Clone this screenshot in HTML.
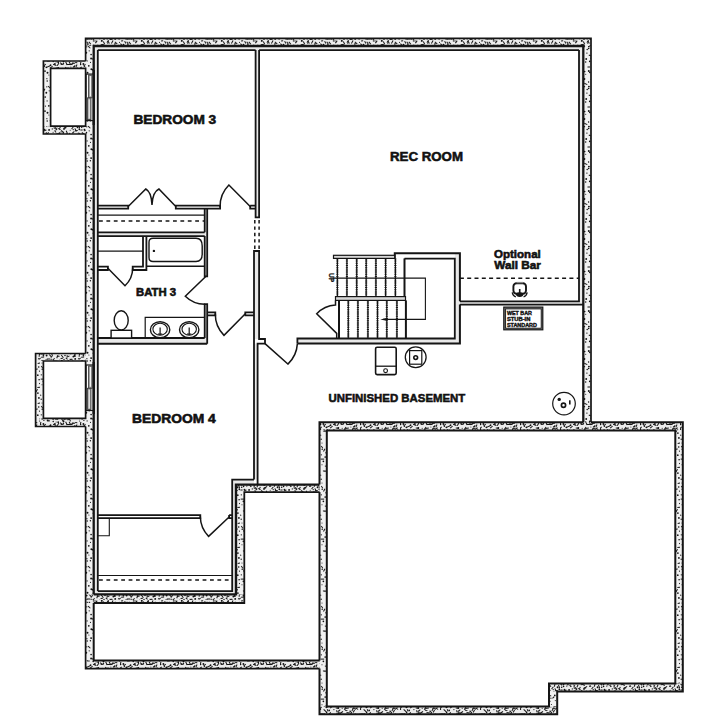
<!DOCTYPE html>
<html><head><meta charset="utf-8"><title>Basement Floor Plan</title>
<style>
html,body{margin:0;padding:0;background:#fff;}
body{width:718px;height:723px;overflow:hidden;font-family:"Liberation Sans",sans-serif;}
svg{display:block;}
</style></head>
<body>
<svg width="718" height="723" viewBox="0 0 718 723" shape-rendering="geometricPrecision"><defs><pattern id="sth" patternUnits="userSpaceOnUse" width="40" height="40"><rect width="40" height="40" fill="#ececec"/><rect x="1.0" y="0.6" width="2.1" height="1.0" fill="#161616" transform="rotate(-9 1.0 0.6)"/><rect x="0.8" y="3.3" width="2.4" height="1.0" fill="#161616" transform="rotate(48 0.8 3.3)"/><circle cx="1.7" cy="7.3" r="0.79" fill="#111"/><rect x="0.4" y="9.4" width="2.2" height="1.0" fill="#161616" transform="rotate(1 0.4 9.4)"/><rect x="2.2" y="12.1" width="3.0" height="1.0" fill="#161616" transform="rotate(39 2.2 12.1)"/><rect x="1.7" y="15.7" width="3.2" height="1.0" fill="#161616" transform="rotate(43 1.7 15.7)"/><circle cx="2.1" cy="19.0" r="0.79" fill="#111"/><rect x="1.5" y="22.3" width="2.5" height="1.0" fill="#161616" transform="rotate(116 1.5 22.3)"/><circle cx="0.6" cy="24.3" r="0.83" fill="#111"/><rect x="2.0" y="27.3" width="2.5" height="1.0" fill="#161616" transform="rotate(140 2.0 27.3)"/><circle cx="0.4" cy="29.1" r="0.85" fill="#111"/><rect x="0.4" y="33.4" width="2.9" height="1.0" fill="#161616" transform="rotate(4 0.4 33.4)"/><rect x="1.1" y="36.7" width="3.0" height="1.0" fill="#161616" transform="rotate(-4 1.1 36.7)"/><rect x="0.9" y="38.3" width="2.1" height="1.0" fill="#161616" transform="rotate(137 0.9 38.3)"/><rect x="5.1" y="0.9" width="2.6" height="1.0" fill="#161616" transform="rotate(64 5.1 0.9)"/><circle cx="3.5" cy="4.6" r="0.92" fill="#111"/><circle cx="3.6" cy="6.6" r="0.77" fill="#111"/><circle cx="4.5" cy="9.6" r="0.93" fill="#111"/><rect x="5.3" y="13.2" width="2.7" height="1.0" fill="#161616" transform="rotate(4 5.3 13.2)"/><circle cx="4.0" cy="15.5" r="0.82" fill="#111"/><circle cx="3.3" cy="17.6" r="0.58" fill="#111"/><circle cx="3.9" cy="20.4" r="0.58" fill="#111"/><circle cx="3.4" cy="24.0" r="0.94" fill="#111"/><circle cx="4.5" cy="26.3" r="0.67" fill="#111"/><rect x="4.0" y="29.1" width="3.6" height="1.0" fill="#161616" transform="rotate(43 4.0 29.1)"/><rect x="4.9" y="33.4" width="3.1" height="1.0" fill="#161616" transform="rotate(120 4.9 33.4)"/><circle cx="3.5" cy="35.8" r="0.76" fill="#111"/><rect x="5.4" y="39.4" width="2.4" height="1.0" fill="#161616" transform="rotate(5 5.4 39.4)"/><rect x="7.2" y="1.4" width="3.0" height="1.0" fill="#161616" transform="rotate(59 7.2 1.4)"/><circle cx="7.9" cy="4.8" r="0.76" fill="#111"/><circle cx="6.8" cy="6.1" r="0.64" fill="#111"/><rect x="6.6" y="10.4" width="2.7" height="1.0" fill="#161616" transform="rotate(159 6.6 10.4)"/><rect x="6.2" y="11.9" width="2.5" height="1.0" fill="#161616" transform="rotate(44 6.2 11.9)"/><rect x="7.1" y="16.1" width="2.1" height="1.0" fill="#161616" transform="rotate(53 7.1 16.1)"/><rect x="7.1" y="17.8" width="2.5" height="1.0" fill="#161616" transform="rotate(159 7.1 17.8)"/><circle cx="7.7" cy="20.5" r="1.00" fill="#111"/><rect x="6.1" y="24.5" width="3.0" height="1.0" fill="#161616" transform="rotate(140 6.1 24.5)"/><circle cx="6.4" cy="27.3" r="0.90" fill="#111"/><rect x="7.7" y="29.1" width="2.2" height="1.0" fill="#161616" transform="rotate(69 7.7 29.1)"/><circle cx="6.6" cy="32.4" r="0.79" fill="#111"/><circle cx="6.6" cy="35.5" r="0.96" fill="#111"/><rect x="6.8" y="38.5" width="3.4" height="1.0" fill="#161616" transform="rotate(0 6.8 38.5)"/><rect x="9.2" y="1.5" width="3.2" height="1.0" fill="#161616" transform="rotate(50 9.2 1.5)"/><rect x="9.9" y="4.8" width="2.5" height="1.0" fill="#161616" transform="rotate(46 9.9 4.8)"/><circle cx="10.9" cy="6.1" r="0.52" fill="#111"/><circle cx="9.1" cy="9.9" r="0.95" fill="#111"/><rect x="9.0" y="12.5" width="3.0" height="1.0" fill="#161616" transform="rotate(124 9.0 12.5)"/><rect x="10.0" y="15.1" width="3.4" height="1.0" fill="#161616" transform="rotate(66 10.0 15.1)"/><circle cx="10.8" cy="17.7" r="0.72" fill="#111"/><circle cx="9.0" cy="20.8" r="0.83" fill="#111"/><circle cx="10.6" cy="25.2" r="0.86" fill="#111"/><rect x="10.4" y="26.3" width="3.5" height="1.0" fill="#161616" transform="rotate(158 10.4 26.3)"/><circle cx="9.2" cy="30.4" r="0.85" fill="#111"/><rect x="11.1" y="32.6" width="2.6" height="1.0" fill="#161616" transform="rotate(128 11.1 32.6)"/><rect x="9.9" y="34.6" width="3.0" height="1.0" fill="#161616" transform="rotate(46 9.9 34.6)"/><circle cx="11.1" cy="37.7" r="0.52" fill="#111"/><circle cx="13.5" cy="0.9" r="0.71" fill="#111"/><circle cx="13.8" cy="5.0" r="0.57" fill="#111"/><rect x="13.8" y="7.3" width="2.1" height="1.0" fill="#161616" transform="rotate(23 13.8 7.3)"/><circle cx="12.3" cy="8.9" r="0.63" fill="#111"/><circle cx="13.1" cy="12.2" r="0.56" fill="#111"/><rect x="11.7" y="16.8" width="3.5" height="1.0" fill="#161616" transform="rotate(51 11.7 16.8)"/><circle cx="13.9" cy="18.0" r="0.97" fill="#111"/><circle cx="13.2" cy="21.5" r="0.72" fill="#111"/><rect x="13.3" y="23.8" width="3.6" height="1.0" fill="#161616" transform="rotate(22 13.3 23.8)"/><rect x="12.9" y="26.6" width="3.1" height="1.0" fill="#161616" transform="rotate(143 12.9 26.6)"/><circle cx="13.9" cy="29.6" r="0.61" fill="#111"/><rect x="12.2" y="33.7" width="2.2" height="1.0" fill="#161616" transform="rotate(69 12.2 33.7)"/><circle cx="11.9" cy="36.3" r="0.58" fill="#111"/><rect x="11.9" y="39.4" width="3.1" height="1.0" fill="#161616" transform="rotate(122 11.9 39.4)"/><circle cx="15.0" cy="0.9" r="0.68" fill="#111"/><rect x="15.3" y="5.4" width="2.1" height="1.0" fill="#161616" transform="rotate(121 15.3 5.4)"/><rect x="15.4" y="7.1" width="2.3" height="1.0" fill="#161616" transform="rotate(45 15.4 7.1)"/><rect x="14.9" y="10.2" width="2.5" height="1.0" fill="#161616" transform="rotate(51 14.9 10.2)"/><rect x="16.1" y="13.4" width="2.6" height="1.0" fill="#161616" transform="rotate(-7 16.1 13.4)"/><rect x="16.0" y="14.9" width="3.1" height="1.0" fill="#161616" transform="rotate(4 16.0 14.9)"/><rect x="14.9" y="18.6" width="3.3" height="1.0" fill="#161616" transform="rotate(2 14.9 18.6)"/><circle cx="16.1" cy="21.9" r="0.52" fill="#111"/><circle cx="14.9" cy="24.0" r="0.92" fill="#111"/><rect x="15.8" y="27.4" width="3.1" height="1.0" fill="#161616" transform="rotate(6 15.8 27.4)"/><circle cx="16.7" cy="30.9" r="0.76" fill="#111"/><rect x="16.3" y="32.8" width="3.4" height="1.0" fill="#161616" transform="rotate(-5 16.3 32.8)"/><rect x="16.8" y="35.7" width="2.8" height="1.0" fill="#161616" transform="rotate(2 16.8 35.7)"/><rect x="15.0" y="38.8" width="3.0" height="1.0" fill="#161616" transform="rotate(141 15.0 38.8)"/><rect x="17.6" y="0.9" width="3.1" height="1.0" fill="#161616" transform="rotate(125 17.6 0.9)"/><rect x="18.5" y="4.9" width="2.9" height="1.0" fill="#161616" transform="rotate(114 18.5 4.9)"/><rect x="18.5" y="7.9" width="2.7" height="1.0" fill="#161616" transform="rotate(33 18.5 7.9)"/><rect x="17.6" y="9.1" width="2.4" height="1.0" fill="#161616" transform="rotate(140 17.6 9.1)"/><circle cx="19.5" cy="13.3" r="0.95" fill="#111"/><circle cx="18.5" cy="14.6" r="0.75" fill="#111"/><circle cx="18.5" cy="18.1" r="0.67" fill="#111"/><circle cx="18.2" cy="22.2" r="0.88" fill="#111"/><rect x="19.3" y="23.4" width="3.1" height="1.0" fill="#161616" transform="rotate(124 19.3 23.4)"/><circle cx="18.3" cy="28.0" r="0.96" fill="#111"/><circle cx="19.2" cy="30.8" r="0.53" fill="#111"/><circle cx="18.9" cy="33.2" r="0.99" fill="#111"/><rect x="18.4" y="35.3" width="3.3" height="1.0" fill="#161616" transform="rotate(111 18.4 35.3)"/><rect x="19.5" y="39.6" width="3.2" height="1.0" fill="#161616" transform="rotate(22 19.5 39.6)"/><circle cx="21.8" cy="0.9" r="0.96" fill="#111"/><rect x="20.6" y="4.2" width="2.5" height="1.0" fill="#161616" transform="rotate(-5 20.6 4.2)"/><rect x="20.8" y="7.1" width="2.2" height="1.0" fill="#161616" transform="rotate(114 20.8 7.1)"/><rect x="21.5" y="9.9" width="3.2" height="1.0" fill="#161616" transform="rotate(41 21.5 9.9)"/><circle cx="21.1" cy="11.9" r="0.63" fill="#111"/><rect x="21.6" y="16.6" width="2.7" height="1.0" fill="#161616" transform="rotate(136 21.6 16.6)"/><rect x="22.0" y="18.6" width="2.6" height="1.0" fill="#161616" transform="rotate(54 22.0 18.6)"/><rect x="20.5" y="22.3" width="3.0" height="1.0" fill="#161616" transform="rotate(42 20.5 22.3)"/><rect x="20.6" y="24.1" width="3.3" height="1.0" fill="#161616" transform="rotate(-9 20.6 24.1)"/><circle cx="22.2" cy="28.2" r="0.55" fill="#111"/><rect x="20.6" y="30.1" width="3.5" height="1.0" fill="#161616" transform="rotate(142 20.6 30.1)"/><circle cx="20.5" cy="33.5" r="0.56" fill="#111"/><rect x="21.6" y="34.7" width="3.5" height="1.0" fill="#161616" transform="rotate(51 21.6 34.7)"/><rect x="20.5" y="38.1" width="2.3" height="1.0" fill="#161616" transform="rotate(-10 20.5 38.1)"/><rect x="23.8" y="1.3" width="3.0" height="1.0" fill="#161616" transform="rotate(64 23.8 1.3)"/><rect x="23.2" y="4.1" width="2.1" height="1.0" fill="#161616" transform="rotate(30 23.2 4.1)"/><rect x="23.7" y="7.5" width="2.4" height="1.0" fill="#161616" transform="rotate(-2 23.7 7.5)"/><circle cx="24.0" cy="8.9" r="0.92" fill="#111"/><circle cx="23.3" cy="12.8" r="0.88" fill="#111"/><circle cx="23.6" cy="15.6" r="0.94" fill="#111"/><rect x="23.4" y="18.9" width="3.4" height="1.0" fill="#161616" transform="rotate(-9 23.4 18.9)"/><circle cx="23.5" cy="21.2" r="0.99" fill="#111"/><circle cx="23.5" cy="23.3" r="0.70" fill="#111"/><rect x="25.2" y="28.0" width="3.6" height="1.0" fill="#161616" transform="rotate(-6 25.2 28.0)"/><rect x="24.8" y="28.9" width="2.6" height="1.0" fill="#161616" transform="rotate(39 24.8 28.9)"/><rect x="23.3" y="31.9" width="3.4" height="1.0" fill="#161616" transform="rotate(148 23.3 31.9)"/><circle cx="25.0" cy="35.6" r="0.74" fill="#111"/><circle cx="24.0" cy="39.5" r="0.68" fill="#111"/><rect x="28.1" y="0.4" width="3.3" height="1.0" fill="#161616" transform="rotate(58 28.1 0.4)"/><circle cx="27.8" cy="3.3" r="0.53" fill="#111"/><rect x="27.4" y="6.8" width="3.5" height="1.0" fill="#161616" transform="rotate(147 27.4 6.8)"/><rect x="26.7" y="10.5" width="3.3" height="1.0" fill="#161616" transform="rotate(67 26.7 10.5)"/><rect x="27.1" y="13.9" width="2.6" height="1.0" fill="#161616" transform="rotate(131 27.1 13.9)"/><rect x="26.4" y="16.4" width="3.3" height="1.0" fill="#161616" transform="rotate(140 26.4 16.4)"/><rect x="27.1" y="19.2" width="2.8" height="1.0" fill="#161616" transform="rotate(-2 27.1 19.2)"/><rect x="26.1" y="21.5" width="3.6" height="1.0" fill="#161616" transform="rotate(64 26.1 21.5)"/><rect x="26.5" y="24.1" width="3.6" height="1.0" fill="#161616" transform="rotate(-1 26.5 24.1)"/><rect x="26.5" y="27.2" width="3.2" height="1.0" fill="#161616" transform="rotate(125 26.5 27.2)"/><circle cx="26.9" cy="30.5" r="0.62" fill="#111"/><rect x="26.6" y="32.1" width="2.9" height="1.0" fill="#161616" transform="rotate(10 26.6 32.1)"/><circle cx="27.2" cy="36.1" r="0.73" fill="#111"/><rect x="26.1" y="37.4" width="2.4" height="1.0" fill="#161616" transform="rotate(42 26.1 37.4)"/><rect x="29.1" y="0.7" width="2.9" height="1.0" fill="#161616" transform="rotate(129 29.1 0.7)"/><rect x="30.2" y="4.9" width="2.0" height="1.0" fill="#161616" transform="rotate(52 30.2 4.9)"/><circle cx="29.7" cy="6.3" r="0.63" fill="#111"/><circle cx="30.2" cy="10.3" r="0.51" fill="#111"/><circle cx="29.6" cy="13.3" r="0.66" fill="#111"/><rect x="29.3" y="16.4" width="2.1" height="1.0" fill="#161616" transform="rotate(1 29.3 16.4)"/><rect x="30.1" y="18.9" width="2.4" height="1.0" fill="#161616" transform="rotate(69 30.1 18.9)"/><rect x="29.6" y="21.6" width="2.7" height="1.0" fill="#161616" transform="rotate(63 29.6 21.6)"/><rect x="29.8" y="24.1" width="2.7" height="1.0" fill="#161616" transform="rotate(-8 29.8 24.1)"/><circle cx="30.9" cy="27.1" r="0.51" fill="#111"/><rect x="30.1" y="30.3" width="2.1" height="1.0" fill="#161616" transform="rotate(51 30.1 30.3)"/><circle cx="29.7" cy="32.1" r="0.53" fill="#111"/><rect x="29.7" y="36.3" width="3.3" height="1.0" fill="#161616" transform="rotate(152 29.7 36.3)"/><rect x="29.6" y="38.8" width="2.1" height="1.0" fill="#161616" transform="rotate(8 29.6 38.8)"/><rect x="33.5" y="0.8" width="3.4" height="1.0" fill="#161616" transform="rotate(119 33.5 0.8)"/><rect x="33.9" y="3.5" width="2.2" height="1.0" fill="#161616" transform="rotate(-6 33.9 3.5)"/><rect x="33.6" y="7.5" width="2.5" height="1.0" fill="#161616" transform="rotate(133 33.6 7.5)"/><circle cx="33.2" cy="9.6" r="0.69" fill="#111"/><circle cx="32.6" cy="12.9" r="0.50" fill="#111"/><rect x="34.0" y="15.6" width="3.0" height="1.0" fill="#161616" transform="rotate(152 34.0 15.6)"/><rect x="32.0" y="17.7" width="2.1" height="1.0" fill="#161616" transform="rotate(-9 32.0 17.7)"/><rect x="32.0" y="22.4" width="3.2" height="1.0" fill="#161616" transform="rotate(8 32.0 22.4)"/><rect x="33.9" y="23.5" width="3.6" height="1.0" fill="#161616" transform="rotate(151 33.9 23.5)"/><rect x="32.4" y="27.9" width="3.1" height="1.0" fill="#161616" transform="rotate(7 32.4 27.9)"/><rect x="33.4" y="29.2" width="2.4" height="1.0" fill="#161616" transform="rotate(117 33.4 29.2)"/><rect x="32.2" y="32.3" width="2.5" height="1.0" fill="#161616" transform="rotate(119 32.2 32.3)"/><circle cx="33.3" cy="36.6" r="0.89" fill="#111"/><rect x="32.0" y="38.6" width="2.6" height="1.0" fill="#161616" transform="rotate(64 32.0 38.6)"/><rect x="35.1" y="1.5" width="3.2" height="1.0" fill="#161616" transform="rotate(39 35.1 1.5)"/><rect x="35.4" y="4.9" width="2.3" height="1.0" fill="#161616" transform="rotate(112 35.4 4.9)"/><rect x="35.3" y="8.2" width="3.5" height="1.0" fill="#161616" transform="rotate(65 35.3 8.2)"/><rect x="34.9" y="10.3" width="2.8" height="1.0" fill="#161616" transform="rotate(-5 34.9 10.3)"/><rect x="34.7" y="11.8" width="2.5" height="1.0" fill="#161616" transform="rotate(137 34.7 11.8)"/><rect x="35.9" y="15.0" width="2.8" height="1.0" fill="#161616" transform="rotate(27 35.9 15.0)"/><circle cx="35.6" cy="17.6" r="0.83" fill="#111"/><rect x="35.2" y="22.1" width="2.1" height="1.0" fill="#161616" transform="rotate(2 35.2 22.1)"/><rect x="35.6" y="25.3" width="2.4" height="1.0" fill="#161616" transform="rotate(112 35.6 25.3)"/><rect x="35.0" y="26.4" width="2.2" height="1.0" fill="#161616" transform="rotate(143 35.0 26.4)"/><rect x="35.0" y="30.2" width="3.0" height="1.0" fill="#161616" transform="rotate(119 35.0 30.2)"/><rect x="36.0" y="34.0" width="2.8" height="1.0" fill="#161616" transform="rotate(129 36.0 34.0)"/><circle cx="34.8" cy="36.1" r="1.00" fill="#111"/><circle cx="35.2" cy="38.9" r="0.95" fill="#111"/><circle cx="39.5" cy="2.4" r="0.53" fill="#111"/><rect x="38.9" y="4.7" width="3.5" height="1.0" fill="#161616" transform="rotate(69 38.9 4.7)"/><circle cx="37.6" cy="7.2" r="0.95" fill="#111"/><circle cx="39.4" cy="9.3" r="0.96" fill="#111"/><rect x="37.9" y="12.6" width="2.6" height="1.0" fill="#161616" transform="rotate(10 37.9 12.6)"/><rect x="38.5" y="16.5" width="3.4" height="1.0" fill="#161616" transform="rotate(146 38.5 16.5)"/><rect x="39.2" y="18.3" width="2.9" height="1.0" fill="#161616" transform="rotate(-8 39.2 18.3)"/><circle cx="39.6" cy="21.1" r="0.51" fill="#111"/><rect x="37.5" y="24.7" width="3.1" height="1.0" fill="#161616" transform="rotate(113 37.5 24.7)"/><rect x="37.9" y="28.2" width="3.1" height="1.0" fill="#161616" transform="rotate(148 37.9 28.2)"/><circle cx="37.7" cy="29.3" r="0.52" fill="#111"/><rect x="39.4" y="33.6" width="3.3" height="1.0" fill="#161616" transform="rotate(52 39.4 33.6)"/><circle cx="39.2" cy="36.0" r="0.67" fill="#111"/><rect x="38.0" y="38.2" width="2.1" height="1.0" fill="#161616" transform="rotate(5 38.0 38.2)"/></pattern><pattern id="stv" patternUnits="userSpaceOnUse" width="40" height="40"><rect width="40" height="40" fill="#f1f1f1"/><circle cx="2.0" cy="3.1" r="0.52" fill="#111"/><rect x="1.7" y="5.8" width="2.6" height="1.0" fill="#161616" transform="rotate(55 1.7 5.8)"/><circle cx="2.2" cy="9.3" r="0.76" fill="#111"/><circle cx="1.3" cy="14.8" r="0.67" fill="#111"/><rect x="0.7" y="18.6" width="3.5" height="1.0" fill="#161616" transform="rotate(0 0.7 18.6)"/><circle cx="3.4" cy="21.3" r="0.85" fill="#111"/><circle cx="2.0" cy="24.8" r="0.54" fill="#111"/><rect x="2.9" y="30.6" width="3.0" height="1.0" fill="#161616" transform="rotate(-2 2.9 30.6)"/><circle cx="0.7" cy="35.2" r="0.60" fill="#111"/><circle cx="1.2" cy="39.3" r="0.69" fill="#111"/><circle cx="7.2" cy="1.1" r="0.77" fill="#111"/><circle cx="6.8" cy="6.8" r="0.67" fill="#111"/><rect x="5.4" y="8.9" width="3.1" height="1.0" fill="#161616" transform="rotate(118 5.4 8.9)"/><circle cx="6.3" cy="12.8" r="0.94" fill="#111"/><circle cx="5.2" cy="17.0" r="0.85" fill="#111"/><circle cx="7.1" cy="20.9" r="0.62" fill="#111"/><circle cx="5.4" cy="26.1" r="0.66" fill="#111"/><circle cx="5.0" cy="31.5" r="0.55" fill="#111"/><circle cx="7.5" cy="32.7" r="0.99" fill="#111"/><circle cx="6.9" cy="38.7" r="0.60" fill="#111"/><circle cx="10.4" cy="0.7" r="0.69" fill="#111"/><rect x="8.5" y="5.7" width="3.1" height="1.0" fill="#161616" transform="rotate(45 8.5 5.7)"/><circle cx="9.2" cy="10.8" r="0.62" fill="#111"/><circle cx="11.1" cy="14.6" r="0.82" fill="#111"/><circle cx="11.1" cy="18.5" r="0.94" fill="#111"/><circle cx="10.5" cy="22.3" r="0.59" fill="#111"/><circle cx="8.8" cy="25.8" r="0.85" fill="#111"/><circle cx="11.3" cy="29.2" r="0.86" fill="#111"/><circle cx="8.9" cy="35.1" r="0.51" fill="#111"/><circle cx="11.1" cy="38.1" r="0.94" fill="#111"/><circle cx="15.3" cy="1.4" r="0.92" fill="#111"/><circle cx="15.3" cy="4.7" r="0.61" fill="#111"/><circle cx="14.7" cy="11.4" r="0.67" fill="#111"/><circle cx="15.1" cy="13.9" r="0.74" fill="#111"/><circle cx="12.5" cy="18.9" r="0.67" fill="#111"/><rect x="14.8" y="21.9" width="2.3" height="1.0" fill="#161616" transform="rotate(5 14.8 21.9)"/><circle cx="13.5" cy="24.6" r="0.70" fill="#111"/><circle cx="12.4" cy="29.7" r="0.85" fill="#111"/><circle cx="13.5" cy="33.2" r="0.87" fill="#111"/><circle cx="15.4" cy="38.1" r="0.90" fill="#111"/><circle cx="17.7" cy="1.1" r="0.89" fill="#111"/><circle cx="19.0" cy="6.4" r="0.78" fill="#111"/><circle cx="17.1" cy="11.5" r="0.82" fill="#111"/><circle cx="19.0" cy="15.0" r="0.65" fill="#111"/><rect x="18.2" y="16.8" width="2.6" height="1.0" fill="#161616" transform="rotate(123 18.2 16.8)"/><circle cx="19.5" cy="22.6" r="0.90" fill="#111"/><circle cx="19.0" cy="25.5" r="0.66" fill="#111"/><circle cx="18.0" cy="30.4" r="0.95" fill="#111"/><circle cx="16.9" cy="33.4" r="0.54" fill="#111"/><rect x="18.2" y="37.4" width="2.8" height="1.0" fill="#161616" transform="rotate(37 18.2 37.4)"/><circle cx="23.4" cy="2.5" r="0.55" fill="#111"/><rect x="20.9" y="5.1" width="2.6" height="1.0" fill="#161616" transform="rotate(28 20.9 5.1)"/><rect x="22.4" y="10.6" width="2.1" height="1.0" fill="#161616" transform="rotate(137 22.4 10.6)"/><circle cx="21.0" cy="14.6" r="0.87" fill="#111"/><circle cx="21.8" cy="19.2" r="0.63" fill="#111"/><circle cx="21.1" cy="20.8" r="0.53" fill="#111"/><circle cx="21.9" cy="24.9" r="0.75" fill="#111"/><circle cx="22.1" cy="31.2" r="0.92" fill="#111"/><circle cx="21.9" cy="34.2" r="0.92" fill="#111"/><rect x="21.6" y="37.7" width="2.1" height="1.0" fill="#161616" transform="rotate(-9 21.6 37.7)"/><rect x="24.5" y="2.8" width="3.3" height="1.0" fill="#161616" transform="rotate(25 24.5 2.8)"/><circle cx="24.5" cy="6.7" r="0.67" fill="#111"/><circle cx="27.2" cy="9.6" r="0.76" fill="#111"/><circle cx="26.9" cy="13.1" r="0.71" fill="#111"/><circle cx="26.2" cy="19.0" r="0.91" fill="#111"/><circle cx="25.7" cy="22.0" r="0.75" fill="#111"/><rect x="27.5" y="26.5" width="2.5" height="1.0" fill="#161616" transform="rotate(2 27.5 26.5)"/><circle cx="24.7" cy="31.6" r="0.78" fill="#111"/><circle cx="25.7" cy="34.2" r="0.55" fill="#111"/><circle cx="24.5" cy="39.0" r="0.88" fill="#111"/><circle cx="28.6" cy="2.0" r="0.69" fill="#111"/><circle cx="28.9" cy="6.6" r="0.94" fill="#111"/><circle cx="28.7" cy="8.5" r="0.81" fill="#111"/><rect x="29.0" y="14.5" width="2.7" height="1.0" fill="#161616" transform="rotate(25 29.0 14.5)"/><circle cx="30.9" cy="18.2" r="0.65" fill="#111"/><circle cx="29.7" cy="21.4" r="0.82" fill="#111"/><circle cx="31.4" cy="24.6" r="0.52" fill="#111"/><circle cx="28.8" cy="31.0" r="0.96" fill="#111"/><circle cx="29.8" cy="32.4" r="0.80" fill="#111"/><circle cx="31.4" cy="39.5" r="0.71" fill="#111"/><circle cx="32.7" cy="2.5" r="0.58" fill="#111"/><circle cx="32.4" cy="4.4" r="0.56" fill="#111"/><rect x="35.5" y="8.7" width="2.2" height="1.0" fill="#161616" transform="rotate(-5 35.5 8.7)"/><circle cx="34.8" cy="15.4" r="0.87" fill="#111"/><rect x="34.6" y="16.9" width="2.5" height="1.0" fill="#161616" transform="rotate(135 34.6 16.9)"/><circle cx="35.3" cy="20.6" r="0.53" fill="#111"/><circle cx="35.2" cy="26.6" r="0.69" fill="#111"/><rect x="33.4" y="30.3" width="3.3" height="1.0" fill="#161616" transform="rotate(9 33.4 30.3)"/><circle cx="33.8" cy="34.6" r="0.90" fill="#111"/><circle cx="33.6" cy="38.5" r="0.71" fill="#111"/><rect x="37.6" y="2.9" width="3.3" height="1.0" fill="#161616" transform="rotate(-9 37.6 2.9)"/><circle cx="38.7" cy="7.0" r="0.80" fill="#111"/><circle cx="39.5" cy="11.1" r="0.65" fill="#111"/><circle cx="37.8" cy="15.2" r="0.84" fill="#111"/><rect x="38.3" y="19.3" width="2.5" height="1.0" fill="#161616" transform="rotate(-2 38.3 19.3)"/><rect x="39.3" y="22.8" width="2.5" height="1.0" fill="#161616" transform="rotate(27 39.3 22.8)"/><rect x="37.3" y="27.1" width="3.1" height="1.0" fill="#161616" transform="rotate(-8 37.3 27.1)"/><rect x="38.0" y="29.6" width="3.2" height="1.0" fill="#161616" transform="rotate(125 38.0 29.6)"/><circle cx="37.9" cy="33.1" r="0.88" fill="#111"/><circle cx="38.9" cy="37.9" r="0.90" fill="#111"/></pattern></defs>
<path d="M85.6,38.3H93.7V668.6H85.6ZM583.3,38.3H591.0V426.3H583.3ZM43.4,61H50.6V134H43.4ZM35.6,353.5H43.4V426.5H35.6ZM319.5,422.3H326.8V714.3H319.5ZM675.3,422.3H682.8V691.4H675.3ZM549.0,683.5H557.2V714.3H549.0ZM236.0,484.6H244.3V603.0H236.0Z" fill="url(#stv)"/>
<path d="M85.6,38.3H591.0V46.0H85.6ZM43.4,61H85.7V68.4H43.4ZM43.4,126.2H85.7V134H43.4ZM35.6,353.5H85.7V361H35.6ZM35.6,418.4H85.7V426.5H35.6ZM319.5,422.3H682.8V430.6H319.5ZM549.0,683.5H682.8V691.4H549.0ZM319.5,706.5H557.2V714.3H319.5ZM236.0,484.6H319.5V492.1H236.0ZM85.6,594.4H244.3V603.0H85.6ZM85.6,660.6H319.5V668.6H85.6Z" fill="url(#sth)"/>
<rect x="459.9" y="301.3" width="123.4" height="3.3" fill="#e9e9e9"/>
<rect x="454.8" y="253.3" width="5.1" height="90.3" fill="#e9e9e9"/>
<rect x="254" y="251" width="5.1" height="88.0" fill="#e9e9e9"/>
<rect x="255.6" y="50.1" width="3.5" height="167.3" fill="#e9e9e9"/>
<rect x="97.8" y="338" width="109.4" height="5.7" fill="#e9e9e9"/>
<rect x="297.4" y="338.5" width="162.5" height="5.1" fill="#e9e9e9"/>
<rect x="204.7" y="208.7" width="2.5" height="67.6" fill="#e9e9e9"/>
<rect x="204.7" y="304.2" width="2.5" height="39.5" fill="#e9e9e9"/>
<rect x="97.8" y="232.3" width="106.9" height="3.8" fill="#e9e9e9"/>
<rect x="254" y="343.6" width="3.6" height="136.0" fill="#e9e9e9"/>
<rect x="93.7" y="46" width="4.1" height="546.0" fill="#e9e9e9"/>
<rect x="93.7" y="46" width="489.6" height="4.1" fill="#e9e9e9"/>
<rect x="579" y="46" width="4.3" height="258.6" fill="#e9e9e9"/>
<rect x="232.2" y="479.6" width="3.8" height="114.8" fill="#e9e9e9"/>
<rect x="232.2" y="479.6" width="21.8" height="5.0" fill="#e9e9e9"/>
<rect x="93.7" y="591.1" width="142.3" height="3.3" fill="#e9e9e9"/>
<path d="M85.6,61V38.3H591.0V422.3" fill="none" stroke="#151515" stroke-width="1.7" />
<path d="M85.6,134V353.5" fill="none" stroke="#151515" stroke-width="1.7" />
<path d="M85.6,426.5V668.6H319.5" fill="none" stroke="#151515" stroke-width="1.7" />
<path d="M85.7,61H43.4V134H85.7" fill="none" stroke="#151515" stroke-width="1.7" />
<path d="M85.7,353.5H35.6V426.5H85.7" fill="none" stroke="#151515" stroke-width="1.7" />
<path d="M85.6,68.4H50.6V126.2H85.6Z" fill="none" stroke="#151515" stroke-width="1.7" />
<path d="M85.6,361H43.4V418.4H85.6Z" fill="none" stroke="#151515" stroke-width="1.7" />
<path d="M93.7,594.4V46.0H583.3V422.3" fill="none" stroke="#151515" stroke-width="2.3" />
<path d="M93.7,603.0V660.6H319.5" fill="none" stroke="#151515" stroke-width="2.0" />
<path d="M319.5,484.6V422.3H583.3" fill="none" stroke="#151515" stroke-width="2.0" />
<path d="M591.0,422.3H682.8V691.4H557.2V714.3H319.5V668.6" fill="none" stroke="#151515" stroke-width="2.0" />
<path d="M319.5,660.6V492.1" fill="none" stroke="#151515" stroke-width="2.0" />
<path d="M326.8,430.6H675.3V683.5H549.0V706.5H326.8Z" fill="none" stroke="#151515" stroke-width="2.0" />
<path d="M93.7,594.4H236.0V484.6H319.5" fill="none" stroke="#151515" stroke-width="2.4" />
<path d="M93.7,603.0H244.3V492.1H319.5" fill="none" stroke="#151515" stroke-width="1.8" />
<rect x="86.2" y="74.1" width="7" height="46.5" fill="#fff" stroke="#151515" stroke-width="1.2"/>
<rect x="88.6" y="75.1" width="3.6" height="22.75" fill="#9a9a9a" stroke="#333" stroke-width="0.8"/>
<rect x="87.4" y="97.85" width="3.6" height="21.75" fill="#9a9a9a" stroke="#333" stroke-width="0.8"/>
<line x1="90.4" y1="76.1" x2="90.4" y2="96.35" stroke="#fff" stroke-width="1"/>
<line x1="89.2" y1="99.35" x2="89.2" y2="118.6" stroke="#fff" stroke-width="1"/>
<rect x="86.2" y="365.0" width="7" height="45.5" fill="#fff" stroke="#151515" stroke-width="1.2"/>
<rect x="88.6" y="366.0" width="3.6" height="22.25" fill="#9a9a9a" stroke="#333" stroke-width="0.8"/>
<rect x="87.4" y="388.25" width="3.6" height="21.25" fill="#9a9a9a" stroke="#333" stroke-width="0.8"/>
<line x1="90.4" y1="367.0" x2="90.4" y2="386.75" stroke="#fff" stroke-width="1"/>
<line x1="89.2" y1="389.75" x2="89.2" y2="408.5" stroke="#fff" stroke-width="1"/>
<path d="M93.7,70V125" fill="none" stroke="#151515" stroke-width="2.3" />
<path d="M93.7,362V414" fill="none" stroke="#151515" stroke-width="2.3" />
<path d="M97.8,50.1H255.6M259.1,50.1H579.0" fill="none" stroke="#151515" stroke-width="1.8" />
<path d="M97.8,50.1V591.1" fill="none" stroke="#151515" stroke-width="1.8" />
<path d="M579.0,50.1V301.3H459.9" fill="none" stroke="#151515" stroke-width="1.8" />
<path d="M459.9,304.6H583.3" fill="none" stroke="#151515" stroke-width="1.8" />
<path d="M255.6,50.1V217.4H259.1V50.1" fill="none" stroke="#151515" stroke-width="1.8" />
<path d="M254.8,220V249M259.1,220V249" fill="none" stroke="#151515" stroke-width="1.5" stroke-dasharray="3.4 3"/>
<path d="M254,479.6V251H259.1V339H265V343.6H257.6V484.6" fill="none" stroke="#151515" stroke-width="1.8" />
<path d="M254,479.6H232.2V591.1H97.8" fill="none" stroke="#151515" stroke-width="1.8" />
<path d="M297.4,343.6V338.5H454.8V258.6H404.5" fill="none" stroke="#151515" stroke-width="1.8" />
<path d="M297.4,343.6H459.9V304.6M459.9,301.3V253.3H394.8V258.4" fill="none" stroke="#151515" stroke-width="2.0" />
<path d="M265,343.6L287.9,364.1A31,31 0 0 0 297.4,343.6" fill="none" stroke="#151515" stroke-width="1.5" />
<path d="M97.8,205.6H128.2V208.7H97.8" fill="none" stroke="#151515" stroke-width="1.8" />
<path d="M175.8,205.6H220.1V208.7H175.8Z" fill="none" stroke="#151515" stroke-width="1.8" />
<path d="M250.2,205.6H255.6M250.2,205.6V208.7H255.6" fill="none" stroke="#151515" stroke-width="1.8" />
<path d="M128.2,206.5L145.8,189Q151.5,192 152,205Q152.5,192 158.9,189L175.8,206.5" fill="none" stroke="#151515" stroke-width="1.5" />
<path d="M220.1,207A30,30 0 0 1 228.9,185L250.2,206.5" fill="none" stroke="#151515" stroke-width="1.5" />
<path d="M204.7,208.7V232.3M204.7,236.1V276.3H207.2V208.7" fill="none" stroke="#151515" stroke-width="1.8" />
<path d="M97.8,232.3H204.7M97.8,236.1H204.7" fill="none" stroke="#151515" stroke-width="1.8" />
<path d="M97.8,215.1H204.7" fill="none" stroke="#151515" stroke-width="1.2" />
<path d="M99,221.1H204" fill="none" stroke="#151515" stroke-width="1.5" stroke-dasharray="3.8 3.6"/>
<path d="M143,236.1V266.6H132.7V270H146.4V236.1" fill="none" stroke="#151515" stroke-width="1.8" />
<path d="M97.8,266.6H107.9V270H97.8" fill="none" stroke="#151515" stroke-width="1.8" />
<path d="M97.8,251.1H143" fill="none" stroke="#151515" stroke-width="1.2" />
<path d="M107.9,268.3L125,285.8A24.6,24.6 0 0 0 132.7,268.3" fill="none" stroke="#151515" stroke-width="1.5" />
<path d="M146.4,266.2H204.7" fill="none" stroke="#151515" stroke-width="1.4" />
<path d="M153,238.3H196Q202.2,238.3 202.2,246V254Q202.2,261.5 196,261.5H153Q149,261.5 149,257.5V242.3Q149,238.3 153,238.3Z" fill="none" stroke="#151515" stroke-width="1.4" />
<circle cx="153.9" cy="250.9" r="1.2" fill="#151515"/>
<path d="M206,276.3L185.3,296.2A28,28 0 0 0 204.7,304.2" fill="none" stroke="#151515" stroke-width="1.5" />
<path d="M204.7,338V304.2H207.2V343.7" fill="none" stroke="#151515" stroke-width="1.8" />
<path d="M97.8,338H204.7" fill="none" stroke="#151515" stroke-width="1.8" />
<path d="M97.8,343.7H207.2" fill="none" stroke="#151515" stroke-width="2.0" />
<path d="M207.2,312.3H215.3V315.3H207.2" fill="none" stroke="#151515" stroke-width="1.8" />
<path d="M254,312.3H245.3V315.3H254" fill="none" stroke="#151515" stroke-width="1.8" />
<path d="M245.3,313.8L224,335.4A30.3,30.3 0 0 1 215.3,313.8" fill="none" stroke="#151515" stroke-width="1.5" />
<path d="M145.2,338V317.4H204.7" fill="none" stroke="#151515" stroke-width="1.2" />
<ellipse cx="160.1" cy="329.7" rx="9.7" ry="8.0" fill="none" stroke="#151515" stroke-width="1.4"/>
<ellipse cx="160.1" cy="329.2" rx="7.2" ry="5.9" fill="none" stroke="#151515" stroke-width="1.1"/>
<path d="M160.1,327.5V335M157.9,334H162.29999999999998" fill="none" stroke="#151515" stroke-width="1.2" />
<ellipse cx="189.2" cy="329.7" rx="9.7" ry="8.0" fill="none" stroke="#151515" stroke-width="1.4"/>
<ellipse cx="189.2" cy="329.2" rx="7.2" ry="5.9" fill="none" stroke="#151515" stroke-width="1.1"/>
<path d="M189.2,327.5V335M187.0,334H191.39999999999998" fill="none" stroke="#151515" stroke-width="1.2" />
<rect x="111.1" y="330.3" width="20.5" height="7.7" fill="#fff" stroke="#151515" stroke-width="1.4"/>
<ellipse cx="121.2" cy="320.4" rx="7" ry="9.6" fill="#fff" stroke="#151515" stroke-width="1.4"/>
<path d="M97.8,515.1H200.3V518.1H97.8" fill="none" stroke="#151515" stroke-width="1.8" />
<path d="M229.1,515.1H232.2M229.1,515.1V518.1H232.2" fill="none" stroke="#151515" stroke-width="1.8" />
<path d="M200.3,516.6A28.8,28.8 0 0 0 208.6,536.4L229.1,517" fill="none" stroke="#151515" stroke-width="1.5" />
<path d="M97.8,535.7H109.3V518.1" fill="none" stroke="#151515" stroke-width="1.1" />
<path d="M97.8,575.5H232.2" fill="none" stroke="#151515" stroke-width="1.2" />
<path d="M99,580H231" fill="none" stroke="#151515" stroke-width="1.5" stroke-dasharray="3.8 3.6"/>
<rect x="333.5" y="255.3" width="61.2" height="3.1" fill="#d8d8d8" stroke="#151515" stroke-width="1.2"/>
<rect x="335.5" y="296.6" width="70" height="3.8" fill="#d8d8d8" stroke="#151515" stroke-width="1.2"/>
<path d="M337.4,258.4V296.6" fill="none" stroke="#151515" stroke-width="1.2" />
<path d="M337.4,258.4V296.6" fill="none" stroke="#151515" stroke-width="2.1" stroke-dasharray="1 1.2"/>
<path d="M346.9,258.4V296.6" fill="none" stroke="#151515" stroke-width="1.2" />
<path d="M346.9,258.4V296.6" fill="none" stroke="#151515" stroke-width="2.1" stroke-dasharray="1 1.2"/>
<path d="M356.7,258.4V296.6" fill="none" stroke="#151515" stroke-width="1.2" />
<path d="M356.7,258.4V296.6" fill="none" stroke="#151515" stroke-width="2.1" stroke-dasharray="1 1.2"/>
<path d="M366.2,258.4V296.6" fill="none" stroke="#151515" stroke-width="1.2" />
<path d="M366.2,258.4V296.6" fill="none" stroke="#151515" stroke-width="2.1" stroke-dasharray="1 1.2"/>
<path d="M375.9,258.4V296.6" fill="none" stroke="#151515" stroke-width="1.2" />
<path d="M375.9,258.4V296.6" fill="none" stroke="#151515" stroke-width="2.1" stroke-dasharray="1 1.2"/>
<path d="M385.6,258.4V296.6" fill="none" stroke="#151515" stroke-width="1.2" />
<path d="M385.6,258.4V296.6" fill="none" stroke="#151515" stroke-width="2.1" stroke-dasharray="1 1.2"/>
<path d="M395.4,258.4V296.6" fill="none" stroke="#151515" stroke-width="1.2" />
<path d="M395.4,258.4V296.6" fill="none" stroke="#151515" stroke-width="2.1" stroke-dasharray="1 1.2"/>
<path d="M404.5,258.4V296.6" fill="none" stroke="#151515" stroke-width="2.0" />
<path d="M348.3,300.4V338.5" fill="none" stroke="#151515" stroke-width="1.2" />
<path d="M348.3,300.4V338.5" fill="none" stroke="#151515" stroke-width="2.1" stroke-dasharray="1 1.2"/>
<path d="M357.9,300.4V338.5" fill="none" stroke="#151515" stroke-width="1.2" />
<path d="M357.9,300.4V338.5" fill="none" stroke="#151515" stroke-width="2.1" stroke-dasharray="1 1.2"/>
<path d="M367.9,300.4V338.5" fill="none" stroke="#151515" stroke-width="1.2" />
<path d="M367.9,300.4V338.5" fill="none" stroke="#151515" stroke-width="2.1" stroke-dasharray="1 1.2"/>
<path d="M377.5,300.4V338.5" fill="none" stroke="#151515" stroke-width="1.2" />
<path d="M377.5,300.4V338.5" fill="none" stroke="#151515" stroke-width="2.1" stroke-dasharray="1 1.2"/>
<path d="M386.8,300.4V338.5" fill="none" stroke="#151515" stroke-width="1.2" />
<path d="M386.8,300.4V338.5" fill="none" stroke="#151515" stroke-width="2.1" stroke-dasharray="1 1.2"/>
<path d="M396.9,300.4V338.5" fill="none" stroke="#151515" stroke-width="1.2" />
<path d="M396.9,300.4V338.5" fill="none" stroke="#151515" stroke-width="2.1" stroke-dasharray="1 1.2"/>
<path d="M339,300.4V338.5" fill="none" stroke="#151515" stroke-width="2.0" />
<path d="M405.9,300.4V338.5" fill="none" stroke="#151515" stroke-width="2.0" />
<path d="M333,278.1H425.4V319.4H383" fill="none" stroke="#151515" stroke-width="1.1" />
<path d="M380.2,319.4L386.5,318V320.8Z" fill="#151515"/>
<text x="0" y="0" transform="translate(328.7,273) rotate(90)" font-family="Liberation Sans" font-weight="bold" font-size="6.8" textLength="9.2" lengthAdjust="spacingAndGlyphs" fill="#151515" stroke="#151515" stroke-width="0.35">UP</text>
<path d="M335.5,300.4V305A28.4,28.4 0 0 0 316.7,313.7L336.7,333.4V338.5" fill="none" stroke="#151515" stroke-width="1.5" />
<rect x="375.6" y="347.3" width="20.6" height="27.3" rx="1.5" fill="#fff" stroke="#151515" stroke-width="1.6"/>
<path d="M375.6,366.2H396.2" fill="none" stroke="#151515" stroke-width="1.3" />
<circle cx="385.6" cy="370.7" r="1.9" fill="none" stroke="#151515" stroke-width="1.1"/>
<circle cx="415.7" cy="357.3" r="10.4" fill="none" stroke="#151515" stroke-width="1.3"/>
<rect x="409.6" y="350.6" width="12.2" height="13.6" fill="none" stroke="#151515" stroke-width="1.2"/>
<circle cx="415.7" cy="357.6" r="1.9" fill="none" stroke="#151515" stroke-width="1.6"/>
<path d="M459.9,278.3H579.0" fill="none" stroke="#151515" stroke-width="1.5" stroke-dasharray="4 3.3"/>
<rect x="513.4" y="283.2" width="12.6" height="10.6" rx="3.2" fill="none" stroke="#151515" stroke-width="1.9"/>
<path d="M516.5,282.6H523" stroke="#888" stroke-width="1.4"/>
<ellipse cx="519.7" cy="294.6" rx="3.6" ry="2.3" fill="#151515"/>
<line x1="519.7" y1="289" x2="519.7" y2="294" stroke="#151515" stroke-width="1.6"/>
<path d="M512.2,292.3Q512.8,295.8 515.8,296.8M527.2,292.3Q526.6,295.8 523.6,296.8" fill="none" stroke="#151515" stroke-width="1.3"/>
<rect x="503.8" y="307.1" width="39" height="22.7" fill="#7a7a7a" stroke="#151515" stroke-width="1.2"/>
<rect x="505.6" y="308.9" width="35.6" height="19.3" fill="#fff" stroke="#151515" stroke-width="0.9"/>
<text x="506.9" y="315.0" font-family="Liberation Sans" font-weight="bold" font-size="4.9" textLength="25" lengthAdjust="spacingAndGlyphs" fill="#111" stroke="#111" stroke-width="0.35">WET BAR</text>
<text x="506.9" y="320.9" font-family="Liberation Sans" font-weight="bold" font-size="4.9" textLength="23.5" lengthAdjust="spacingAndGlyphs" fill="#111" stroke="#111" stroke-width="0.35">STUB-IN</text>
<text x="506.9" y="326.8" font-family="Liberation Sans" font-weight="bold" font-size="4.9" textLength="30" lengthAdjust="spacingAndGlyphs" fill="#111" stroke="#111" stroke-width="0.35">STANDARD</text>
<circle cx="564" cy="403.6" r="11.3" fill="none" stroke="#151515" stroke-width="1.2"/>
<circle cx="559.2" cy="399.4" r="1.7" fill="#151515"/>
<circle cx="563.5" cy="405.3" r="2.1" fill="none" stroke="#151515" stroke-width="1.7"/>
<rect x="569" y="400.3" width="1.6" height="4.2" fill="#151515"/>
<text x="133.4" y="124.2" font-family="Liberation Sans" font-weight="bold" font-size="12.2" textLength="82.79999999999998" lengthAdjust="spacingAndGlyphs" fill="#111" stroke="#111" stroke-width="0.55">BEDROOM 3</text>
<text x="390.0" y="161.0" font-family="Liberation Sans" font-weight="bold" font-size="12.6" textLength="73.0" lengthAdjust="spacingAndGlyphs" fill="#111" stroke="#111" stroke-width="0.55">REC ROOM</text>
<text x="136.0" y="295.6" font-family="Liberation Sans" font-weight="bold" font-size="10.0" textLength="40.0" lengthAdjust="spacingAndGlyphs" fill="#111" stroke="#111" stroke-width="0.55">BATH 3</text>
<text x="132.0" y="423.1" font-family="Liberation Sans" font-weight="bold" font-size="12.0" textLength="83.80000000000001" lengthAdjust="spacingAndGlyphs" fill="#111" stroke="#111" stroke-width="0.55">BEDROOM 4</text>
<text x="328.5" y="402.3" font-family="Liberation Sans" font-weight="bold" font-size="11.7" textLength="136.8" lengthAdjust="spacingAndGlyphs" fill="#111" stroke="#111" stroke-width="0.55">UNFINISHED BASEMENT</text>
<text x="494.0" y="258.0" font-family="Liberation Sans" font-weight="bold" font-size="10.6" textLength="46.799999999999955" lengthAdjust="spacingAndGlyphs" fill="#111" stroke="#111" stroke-width="0.55">Optional</text>
<text x="494.3" y="269.2" font-family="Liberation Sans" font-weight="bold" font-size="10.6" textLength="46.49999999999994" lengthAdjust="spacingAndGlyphs" fill="#111" stroke="#111" stroke-width="0.55">Wall Bar</text></svg>
</body></html>
